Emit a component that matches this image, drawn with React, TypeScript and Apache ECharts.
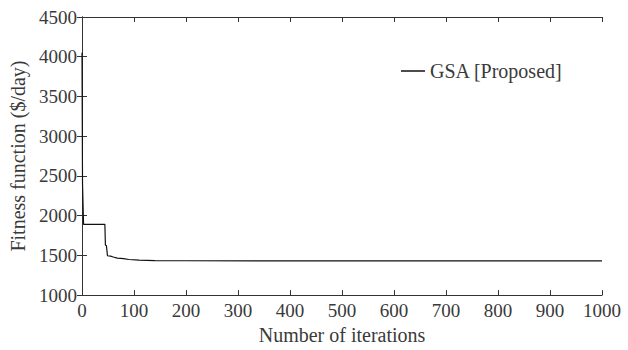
import React, { useEffect, useRef } from "react";
import * as echarts from "echarts";

// Convergence curve of the GSA optimiser: [iteration, fitness ($/day)]
const iterations = [0, 1, 3, 44, 45, 47, 49, 55, 60, 68, 80, 90, 110, 140, 200, 1000];
const fitness = [4050, 2400, 1890, 1890, 1630, 1620, 1495, 1490, 1480, 1465, 1460, 1448, 1440, 1435, 1432, 1430];
const seriesName = "GSA [Proposed]";
const xTicks = { min: 0, max: 1000, interval: 100 };
const yTicks = { min: 1000, max: 4500, interval: 500 };

const FONT = "Liberation Serif";
const TEXT = "#3a3a3a";
const AXIS = "#333";

export default function App() {
  const ref = useRef<HTMLDivElement>(null);
  useEffect(() => {
    if (!ref.current) return;
    const chart = echarts.init(ref.current, undefined, { renderer: "svg" });
    const data = iterations.map((x, i) => [x, fitness[i]]);
    const plain = (v: number) => String(v);
    const mirror = {
      axisLine: { show: true, lineStyle: { color: AXIS, width: 1 } },
      axisTick: { show: true, inside: true, length: 5, lineStyle: { color: AXIS } },
      axisLabel: { show: false },
      splitLine: { show: false },
    };
    chart.setOption({
      animation: false,
      backgroundColor: "#fff",
      textStyle: { fontFamily: FONT },
      grid: { left: 82, right: 26, top: 17, bottom: 53 },
      legend: {
        left: 396,
        top: 56,
        itemWidth: 24,
        itemHeight: 1.5,
        itemGap: 8,
        icon: "rect",
        textStyle: { fontFamily: FONT, fontSize: 20, color: TEXT },
        data: [seriesName],
      },
      xAxis: [
        {
          type: "value",
          ...xTicks,
          name: "Number of iterations",
          nameLocation: "middle",
          nameGap: 29,
          nameTextStyle: { fontFamily: FONT, fontSize: 20, color: TEXT },
          axisLine: { show: true, lineStyle: { color: AXIS, width: 1 } },
          axisTick: { show: true, inside: true, length: 5, lineStyle: { color: AXIS } },
          axisLabel: { fontFamily: FONT, fontSize: 19, color: TEXT, margin: 6, formatter: plain },
          splitLine: { show: false },
        },
        { type: "value", position: "top", ...xTicks, ...mirror },
      ],
      yAxis: [
        {
          type: "value",
          ...yTicks,
          name: "Fitness function ($/day)",
          nameLocation: "middle",
          nameGap: 42,
          nameTextStyle: { fontFamily: FONT, fontSize: 20, color: TEXT },
          axisLine: { show: true, lineStyle: { color: AXIS, width: 1 } },
          axisTick: { show: true, inside: true, length: 5, lineStyle: { color: AXIS } },
          axisLabel: { fontFamily: FONT, fontSize: 19, color: TEXT, margin: 5, formatter: plain },
          splitLine: { show: false },
        },
        { type: "value", position: "right", ...yTicks, ...mirror },
      ],
      series: [
        {
          name: seriesName,
          type: "line",
          data,
          showSymbol: false,
          lineStyle: { color: "#111", width: 1.2 },
          itemStyle: { color: "#111" },
        },
      ],
    });
    return () => chart.dispose();
  }, []);
  return (
    <div
      ref={ref}
      style={{ position: "fixed", left: 0, top: 0, width: 628, height: 350 }}
    />
  );
}
